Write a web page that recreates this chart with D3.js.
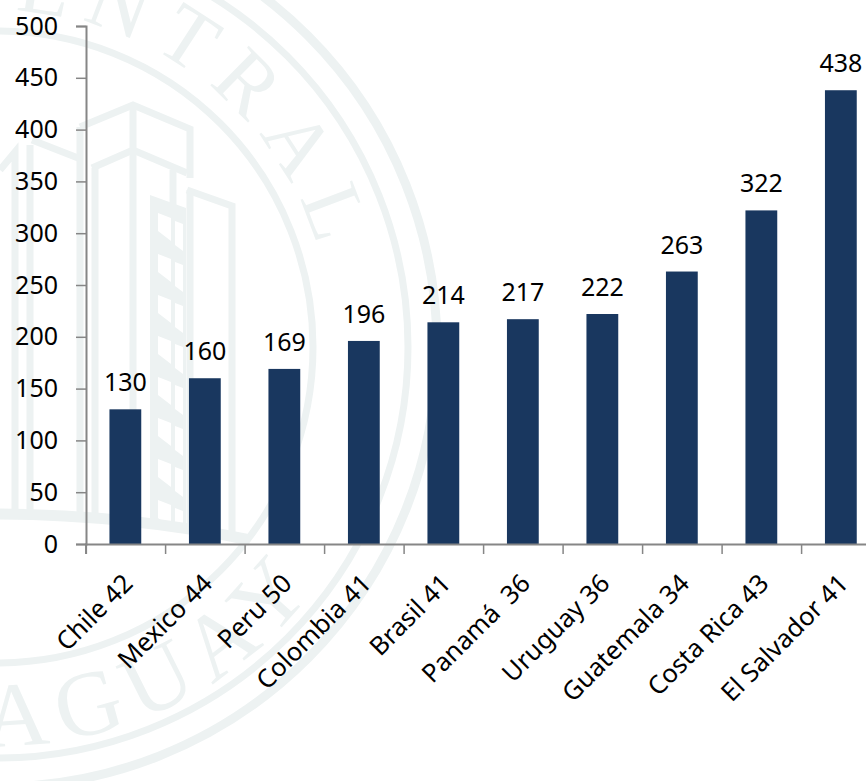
<!DOCTYPE html>
<html>
<head>
<meta charset="utf-8">
<script src="https://cdn.jsdelivr.net/npm/d3@7"></script>
<style>
html,body{margin:0;padding:0;background:#fff;overflow:hidden}
svg{display:block}
text{font-family:"Noto Sans",Lato,sans-serif;fill:#000}
</style>
</head>
<body>
<svg id="c" width="866" height="781"></svg>
<script>
const categories = ["Chile 42","Mexico 44","Peru 50","Colombia 41","Brasil 41","Panamá  36","Uruguay 36","Guatemala 34","Costa Rica 43","El Salvador 41"];
const values = [130,160,169,196,214,217,222,263,322,438];
const yTicks = [0,50,100,150,200,250,300,350,400,450,500];

const svg = d3.select("#c");
const wm = "#edf2f2";
const seal = svg.append("g").attr("class","watermark");
const cx = -3, cy = 347;
[[316,7],[411,7],[440,9]].forEach(([r,w])=>seal.append("circle").attr("cx",cx).attr("cy",cy).attr("r",r)
  .attr("fill","none").attr("stroke",wm).attr("stroke-width",w));
const defs = svg.append("defs");
const R1 = 336, R2 = 399;
defs.append("path").attr("id","arcTop")
  .attr("d",`M${cx-R1},${cy} A${R1},${R1} 0 0 1 ${cx+R1},${cy}`);
defs.append("path").attr("id","arcBot")
  .attr("d",`M${cx-R2},${cy} A${R2},${R2} 0 0 0 ${cx+R2},${cy}`);
const sealText = (id,txt,off,sp,fs)=>seal.append("text")
  .style("font-family","'Liberation Serif',serif").style("fill",wm)
  .attr("font-size",fs).attr("letter-spacing",sp)
  .append("textPath").attr("href","#"+id).attr("startOffset",off).text(txt);
sealText("arcTop","CENTRAL",  "45%", 15, 84);
sealText("arcBot","AGUAY",  "49%", 13, 92);

const line = d=>seal.append("path").attr("d",d).attr("fill","none").attr("stroke",wm)
  .attr("stroke-width",7).attr("stroke-linejoin","miter");
line("M80,127 L133,105 L190,129 L190,178");
line("M92,168 L133,150 L187,173");
line("M133,105 V522");
line("M80,127 V522");
line("M95,168 V522");
line("M187,190 L232,206 V532");
line("M190,190 V532");
line("M173,170 V205");
line("M0,170 L15,152 V515");
line("M30,145 V517");
line("M32,140 L78,158");
seal.append("path").attr("fill",wm).attr("d","M150,195 L186,208 V528 L150,520 Z");
d3.range(8).forEach(i=>{
  const y0 = 213 + i*41;
  seal.append("path").attr("fill","#fff").attr("d",`M158,${y0} L171,${y0+5} V${y0+28} L158,${y0+18} Z`);
  seal.append("path").attr("fill","#fff").attr("d",`M175,${y0+8} L183,${y0+11} V${y0+38} L175,${y0+32} Z`);
});
seal.append("path").attr("fill","none").attr("stroke",wm).attr("stroke-width",11)
  .attr("d","M0,514 Q130,515 250,540");

const x = d3.scaleBand().domain(categories).range([85.6,880.6]).paddingInner(0.6).paddingOuter(0.3);
const xIdx = d3.scaleLinear().domain([0,categories.length]).range([85.6,880.6]);
const y = d3.scaleLinear().domain([0,500]).range([544,26]);

svg.append("g").selectAll("rect").data(values).join("rect")
  .attr("x",(d,i)=>x(categories[i])).attr("width",x.bandwidth())
  .attr("y",d=>y(d)).attr("height",d=>y(0)-y(d))
  .attr("fill","#19375f");

const gy = svg.append("g").attr("transform","translate(86,0)")
  .call(d3.axisLeft(y).tickValues(yTicks).tickSize(10).tickPadding(18).tickFormat(d3.format("d")));
const gx = svg.append("g").attr("transform","translate(0,544)")
  .call(d3.axisBottom(xIdx).tickValues(d3.range(categories.length+1)).tickSize(10).tickFormat(""));
const glab = svg.append("g").attr("transform","translate(0,544)")
  .call(d3.axisBottom(x).tickSize(0).tickPadding(0));
glab.select(".domain").remove();
glab.selectAll("text").attr("transform","translate(9,41) rotate(-45)").attr("text-anchor","end")
  .attr("dy",0).attr("y",0).attr("font-size",25.5).attr("font-family",null).style("white-space","pre");
[gy,gx].forEach(g=>{
  g.selectAll(".domain").attr("stroke","#868686").attr("stroke-width",2);
  g.selectAll(".tick line").attr("stroke","#868686").attr("stroke-width",1.5);
});
gy.selectAll("text").attr("font-size",25).attr("font-family",null);

svg.append("g").selectAll("text").data(values).join("text")
  .attr("x",(d,i)=>x(categories[i])+x.bandwidth()/2).attr("y",d=>y(d)-18)
  .attr("text-anchor","middle").attr("font-size",25).text(d=>d);
</script>
</body>
</html>
